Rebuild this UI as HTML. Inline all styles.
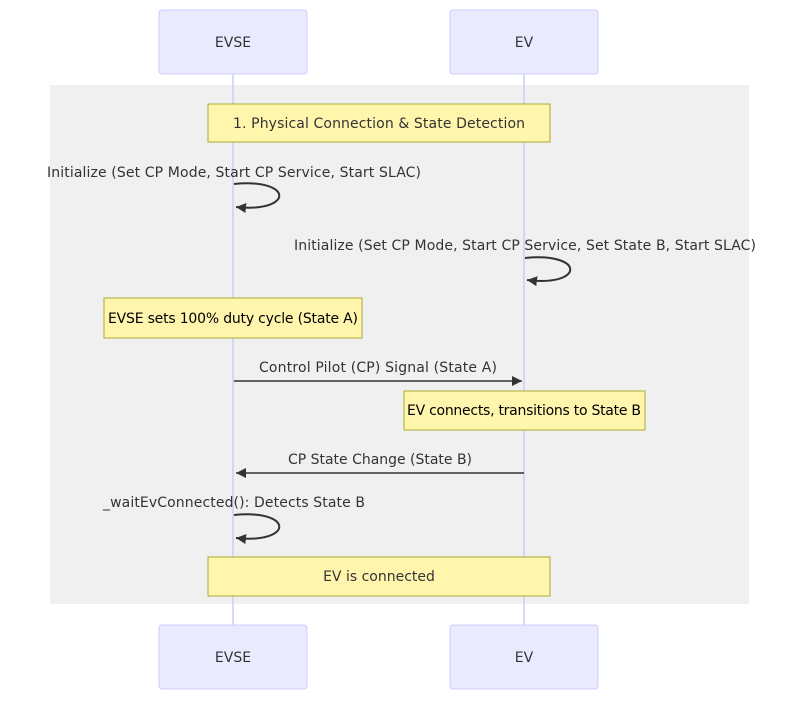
<!DOCTYPE html>
<html><head><meta charset="utf-8"><style>
html,body{margin:0;padding:0;background:#fff;}
text{font-family:"DejaVu Sans","Liberation Sans",sans-serif;font-size:14px;fill:#333;}
</style></head><body>
<svg width="807" height="707" viewBox="0 0 807 707" xmlns="http://www.w3.org/2000/svg">
<defs>
<marker id="ah" markerWidth="12" markerHeight="12" refX="10" refY="5" orient="auto" markerUnits="userSpaceOnUse">
<path d="M0,0 L10,5 L0,10 z" fill="#333"/>
</marker>
</defs>
<rect x="50" y="85" width="699" height="519" fill="#f0f0f0"/>
<line x1="233" y1="74" x2="233" y2="625" stroke="#ccccff" stroke-width="1.5"/>
<line x1="524" y1="74" x2="524" y2="625" stroke="#ccccff" stroke-width="1.5"/>
<g fill="#eaeaff" stroke="#ccccff">
<rect x="159" y="10" width="148" height="64" rx="3"/>
<rect x="450" y="10" width="148" height="64" rx="3"/>
<rect x="159" y="625" width="148" height="64" rx="3"/>
<rect x="450" y="625" width="148" height="64" rx="3"/>
</g>
<g text-anchor="middle">
<text x="233" y="47">EVSE</text><text x="524" y="47">EV</text>
<text x="233" y="662">EVSE</text><text x="524" y="662">EV</text>
</g>
<g fill="#fff5ad" stroke="#aaaa33">
<rect x="208" y="104" width="342" height="38"/>
<rect x="104" y="298" width="258" height="40"/>
<rect x="404" y="391" width="241" height="39"/>
<rect x="208" y="557" width="342" height="39"/>
</g>
<g text-anchor="middle">
<text x="379" y="128" textLength="292">1. Physical Connection &amp; State Detection</text>
<text x="233" y="323" style="fill:#000" textLength="250">EVSE sets 100% duty cycle (State A)</text>
<text x="524" y="415" style="fill:#000" textLength="234">EV connects, transitions to State B</text>
<text x="379" y="581">EV is connected</text>
<text x="234" y="177" textLength="374">Initialize (Set CP Mode, Start CP Service, Start SLAC)</text>
<text x="525" y="250" textLength="462">Initialize (Set CP Mode, Start CP Service, Set State B, Start SLAC)</text>
<text x="378" y="372" textLength="238">Control Pilot (CP) Signal (State A)</text>
<text x="380" y="464" textLength="184">CP State Change (State B)</text>
<text x="234" y="507" textLength="262">_waitEvConnected(): Detects State B</text>
</g>
<g fill="none" stroke="#333" stroke-width="2">
<path d="M234,184 C294,178 294,213 236,207" marker-end="url(#ah)"/>
<path d="M525,258 C585,252 585,287 527,280" marker-end="url(#ah)"/>
<path d="M234,515 C294,509 294,544 236,538" marker-end="url(#ah)"/>
<line x1="234" y1="381" x2="522" y2="381" stroke-width="1.5" marker-end="url(#ah)"/>
<line x1="524" y1="473" x2="236" y2="473" stroke-width="1.5" marker-end="url(#ah)"/>
</g>
</svg>
</body></html>
